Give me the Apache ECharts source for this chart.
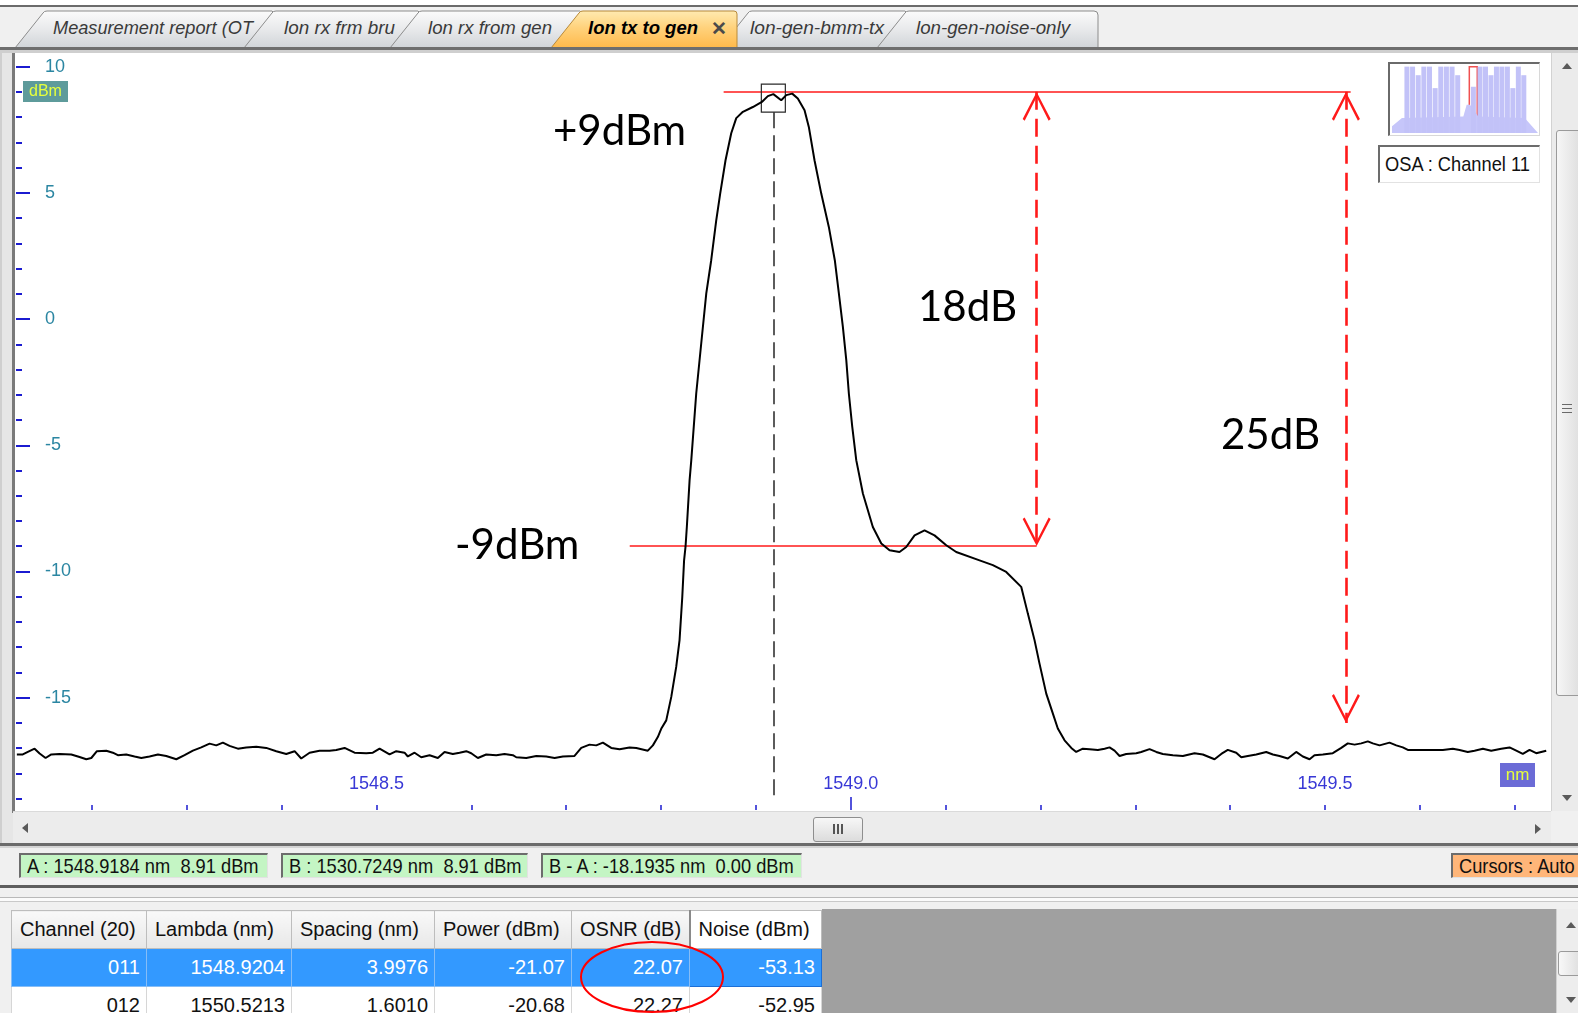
<!DOCTYPE html>
<html>
<head>
<meta charset="utf-8">
<title>OSA : Channel 11</title>
<script src="https://cdn.jsdelivr.net/npm/echarts@6/dist/echarts.min.js"></script>
<style>
  html, body { margin: 0; padding: 0; width: 1578px; height: 1013px; overflow: hidden; background: #f0f0f0; }
  body { position: relative; font-family: "Liberation Sans", Arial, sans-serif; }
  .abs { position: absolute; box-sizing: border-box; }
  .squeeze { display: inline-block; transform: scaleX(0.87); transform-origin: 0 50%; white-space: pre; }
  .inset { border-top: 2px solid #6c6c6c; border-left: 2px solid #6c6c6c; border-right: 1px solid #e2e2e2; border-bottom: 1px solid #e2e2e2; }
  .stat { top: 853px; height: 25px; font-size: 21px; line-height: 22px; padding-left: 6px; white-space: pre; color: #111; overflow: hidden; }
  .tri { position: absolute; width: 0; height: 0; }
  .up { border-left: 5px solid transparent; border-right: 5px solid transparent; border-bottom: 6px solid #5a5a5a; }
  .down { border-left: 5px solid transparent; border-right: 5px solid transparent; border-top: 6px solid #5a5a5a; }
  .left { border-top: 5px solid transparent; border-bottom: 5px solid transparent; border-right: 6px solid #5a5a5a; }
  .right { border-top: 5px solid transparent; border-bottom: 5px solid transparent; border-left: 6px solid #5a5a5a; }
  #tbl { position: absolute; left: 11px; top: 910px; border-collapse: collapse; table-layout: fixed; font-size: 20px; font-family: "Liberation Sans", Arial, sans-serif; }
  #tbl th { height: 37px; padding: 0 0 0 8px; text-align: left; font-weight: normal; color: #111;
            background: linear-gradient(#f9f9f9, #e7e7e7); border: 1px solid #bdbdbd; white-space: nowrap; overflow: hidden; }
  #tbl th.active { background: #ffffff; border-left: 2px solid #8a8a8a; }
  #tbl td { height: 37px; padding: 0 6px 0 0; text-align: right; color: #111; background: #fff; border: 1px solid #d6d6d6; white-space: nowrap; overflow: hidden; }
  #tbl tr.sel td { background: #3399ff; color: #fff; border-color: #86bdf7; }
  #tbl tr.sel td.focus { border: 1px solid #1d6fd6; }
  #chart { position: absolute; left: 0; top: 0; width: 1578px; height: 1013px; z-index: 10; pointer-events: none; }
</style>
</head>
<body>

<!-- window frame and tab strip -->
<div class="abs" style="left:0;top:0;width:1578px;height:5px;background:#ffffff"></div>
<div class="abs" style="left:0;top:5px;width:1578px;height:2px;background:#6b6b6b"></div>
<svg class="abs" style="left:0;top:0" width="1110" height="50">
  <defs>
    <linearGradient id="tabFill" x1="0" y1="0" x2="0" y2="1">
      <stop offset="0" stop-color="#fbfbfb"/>
      <stop offset="0.5" stop-color="#e8e9eb"/>
      <stop offset="1" stop-color="#d0d4d8"/>
    </linearGradient>
    <linearGradient id="tabActive" x1="0" y1="0" x2="0" y2="1">
      <stop offset="0" stop-color="#ffeab0"/>
      <stop offset="0.45" stop-color="#ffd27c"/>
      <stop offset="1" stop-color="#ffb94a"/>
    </linearGradient>
  </defs>
  <g stroke="#8c8c8c" stroke-width="1" fill="url(#tabFill)">
    <path d="M15,48 L43,13 Q44,11 47,11 L272,11 L276,15 L276,48 Z"/>
    <path d="M244,48 L272,13 Q273,11 276,11 L418,11 L422,15 L422,48 Z"/>
    <path d="M390,48 L418,13 Q419,11 422,11 L580,11 L584,15 L584,48 Z"/>
    <path d="M720,48 L748,13 Q749,11 752,11 L905,11 L909,15 L909,48 Z"/>
    <path d="M877,48 L905,13 Q906,11 909,11 L1094,11 Q1098,11 1098,15 L1098,48 Z"/>
  </g>
  <path d="M551,48 L579,13 Q580,11 583,11 L734,11 Q737,11 737,14 L737,48 Z" fill="url(#tabActive)" stroke="#b88a3a" stroke-width="1"/>
  <g font-family="Liberation Sans, Arial, sans-serif" font-size="18.5" font-style="italic" fill="#3a3a3a">
    <text x="53" y="34" textLength="200" lengthAdjust="spacingAndGlyphs">Measurement report (OT</text>
    <text x="284" y="34" textLength="111" lengthAdjust="spacingAndGlyphs">lon rx frm bru</text>
    <text x="428" y="34" textLength="124" lengthAdjust="spacingAndGlyphs">lon rx from gen</text>
    <text x="750" y="34" textLength="134" lengthAdjust="spacingAndGlyphs">lon-gen-bmm-tx</text>
    <text x="916" y="34" textLength="154" lengthAdjust="spacingAndGlyphs">lon-gen-noise-only</text>
  </g>
  <text x="588" y="34" font-family="Liberation Sans, Arial, sans-serif" font-size="18.5" font-style="italic" font-weight="bold" fill="#000" textLength="110" lengthAdjust="spacingAndGlyphs">lon tx to gen</text>
  <text x="711" y="35" font-family="Liberation Sans, Arial, sans-serif" font-size="19" font-weight="bold" fill="#4a4a4a">✕</text>
</svg>
<div class="abs" style="left:0;top:47px;width:1578px;height:3px;background:#6e6e6e"></div>
<div class="abs" style="left:0;top:50px;width:1578px;height:3px;background:#cfcfcf"></div>

<!-- spectrum panel -->
<div class="abs" style="left:0;top:53px;width:13px;height:792px;background:#e6e6e6;border-left:2px solid #cfcfcf"></div>
<div class="abs" style="left:12px;top:53px;width:3px;height:760px;background:#7a7a7a"></div>
<div class="abs" style="left:15px;top:53px;width:1536px;height:758px;background:#ffffff"></div>

<!-- vertical scrollbar of the spectrum -->
<div class="abs" style="left:1551px;top:53px;width:27px;height:760px;background:#ebebeb;border-left:1px solid #d2d2d2"></div>
<div class="tri up" style="left:1562px;top:63px"></div>
<div class="tri down" style="left:1562px;top:795px"></div>
<div class="abs" style="left:1556px;top:130px;width:26px;height:566px;background:linear-gradient(90deg,#f6f6f6,#dedede);border:1px solid #9a9a9a;border-radius:3px"></div>
<div class="abs" style="left:1562px;top:404px;width:10px;height:1px;background:#6a6a6a"></div>
<div class="abs" style="left:1562px;top:408px;width:10px;height:1px;background:#6a6a6a"></div>
<div class="abs" style="left:1562px;top:412px;width:10px;height:1px;background:#6a6a6a"></div>

<!-- horizontal scrollbar -->
<div class="abs" style="left:13px;top:811px;width:1538px;height:32px;background:#ececec;border-top:1px solid #dadada"></div>
<div class="abs" style="left:1551px;top:811px;width:27px;height:32px;background:#f0f0f0"></div>
<div class="tri left" style="left:22px;top:823px"></div>
<div class="tri right" style="left:1535px;top:824px"></div>
<div class="abs" style="left:813px;top:817px;width:50px;height:25px;background:linear-gradient(#f7f7f7,#dcdcdc);border:1px solid #8e8e8e;border-radius:3px"></div>
<div class="abs" style="left:833px;top:824px;width:2px;height:10px;background:#555"></div>
<div class="abs" style="left:837px;top:824px;width:2px;height:10px;background:#555"></div>
<div class="abs" style="left:841px;top:824px;width:2px;height:10px;background:#555"></div>

<!-- cursor status bar -->
<div class="abs" style="left:0;top:843px;width:1578px;height:3px;background:#6b6b6b"></div>
<div class="abs" style="left:0;top:846px;width:1578px;height:2px;background:#d4d4d4"></div>
<div class="abs stat inset" style="left:19px;width:249px;background:#c4f5c4"><span id="statA" class="squeeze"></span></div>
<div class="abs stat inset" style="left:281px;width:247px;background:#c4f5c4"><span id="statB" class="squeeze"></span></div>
<div class="abs stat inset" style="left:541px;width:261px;background:#c4f5c4"><span id="statBA" class="squeeze"></span></div>
<div class="abs stat inset" style="left:1451px;width:140px;background:#ffb679"><span id="statMode" class="squeeze"></span></div>

<!-- channel table -->
<div class="abs" style="left:0;top:885px;width:1578px;height:3px;background:#5e5e5e"></div>
<div class="abs" style="left:0;top:897px;width:1578px;height:1px;background:#b9b9b9"></div>
<div class="abs" style="left:0;top:898px;width:1578px;height:3px;background:#fbfbfb"></div>
<div class="abs" style="left:0;top:901px;width:1578px;height:1px;background:#c9c9c9"></div>
<div class="abs" style="left:822px;top:909px;width:734px;height:104px;background:#a0a0a0"></div>
<div class="abs" style="left:1556px;top:909px;width:22px;height:104px;background:#ededed;border-left:1px solid #d0d0d0"></div>
<div class="tri up" style="left:1566px;top:922px"></div>
<div class="abs" style="left:1558px;top:951px;width:24px;height:25px;background:linear-gradient(90deg,#f8f8f8,#dedede);border:1px solid #9a9a9a;border-radius:3px"></div>
<div class="tri down" style="left:1566px;top:997px"></div>
<table id="tbl"></table>

<!-- overview map frame and channel caption -->
<div class="abs" style="left:1388px;top:62px;width:152px;height:74px;background:#ffffff;border-top:2px solid #6a6a6a;border-left:2px solid #6a6a6a;border-right:1px solid #d8d8d8;border-bottom:1px solid #d8d8d8"></div>
<div class="abs inset" style="left:1378px;top:145px;width:162px;height:38px;background:#ffffff;font-size:21px;line-height:34px;padding-left:5px;color:#111;overflow:hidden"><span class="squeeze">OSA : Channel 11</span></div>

<div id="chart"></div>

<script>
// ---- measured trace (wavelength in nm, power in dBm) ----
const waveNm = [
  1548.1209, 1548.1272, 1548.1325, 1548.1396, 1548.1449, 1548.1512, 1548.1572, 1548.1659, 1548.1783, 1548.1870,
  1548.1941, 1548.1994, 1548.2053, 1548.2152, 1548.2221, 1548.2274, 1548.2362, 1548.2450, 1548.2521, 1548.2608,
  1548.2696, 1548.2784, 1548.2890, 1548.2977, 1548.3065, 1548.3153, 1548.3241, 1548.3311, 1548.3381, 1548.3451,
  1548.3539, 1548.3627, 1548.3733, 1548.3838, 1548.3944, 1548.4049, 1548.4137, 1548.4207, 1548.4295, 1548.4400,
  1548.4506, 1548.4576, 1548.4664, 1548.4769, 1548.4892, 1548.4962, 1548.5033, 1548.5138, 1548.5209, 1548.5296,
  1548.5331, 1548.5402, 1548.5472, 1548.5560, 1548.5647, 1548.5718, 1548.5805, 1548.5876, 1548.5947, 1548.5999,
  1548.6069, 1548.6157, 1548.6263, 1548.6350, 1548.6438, 1548.6474, 1548.6579, 1548.6685, 1548.6790, 1548.6878,
  1548.6965, 1548.7088, 1548.7159, 1548.7246, 1548.7317, 1548.7387, 1548.7475, 1548.7563, 1548.7668, 1548.7739,
  1548.7861, 1548.7914, 1548.7966, 1548.8005, 1548.8055, 1548.8108, 1548.8160, 1548.8195, 1548.8224, 1548.8243,
  1548.8258, 1548.8272, 1548.8301, 1548.8319, 1548.8371, 1548.8424, 1548.8477, 1548.8529, 1548.8582, 1548.8624,
  1548.8680, 1548.8740, 1548.8793, 1548.8863, 1548.8968, 1548.9063, 1548.9126, 1548.9184, 1548.9267, 1548.9320,
  1548.9383, 1548.9442, 1548.9513, 1548.9558, 1548.9618, 1548.9689, 1548.9769, 1548.9832, 1548.9875, 1548.9917,
  1548.9953, 1548.9980, 1549.0016, 1549.0058, 1549.0128, 1549.0233, 1549.0322, 1549.0409, 1549.0514, 1549.0585,
  1549.0673, 1549.0778, 1549.0883, 1549.1007, 1549.1112, 1549.1358, 1549.1498, 1549.1639, 1549.1797, 1549.1867,
  1549.1938, 1549.1990, 1549.2061, 1549.2131, 1549.2183, 1549.2254, 1549.2325, 1549.2377, 1549.2447, 1549.2517,
  1549.2605, 1549.2676, 1549.2728, 1549.2781, 1549.2834, 1549.2904, 1549.3010, 1549.3062, 1549.3150, 1549.3221,
  1549.3290, 1549.3396, 1549.3501, 1549.3624, 1549.3712, 1549.3835, 1549.3906, 1549.3975, 1549.4064, 1549.4117,
  1549.4186, 1549.4275, 1549.4380, 1549.4450, 1549.4520, 1549.4608, 1549.4696, 1549.4766, 1549.4837, 1549.4889,
  1549.4977, 1549.5082, 1549.5171, 1549.5240, 1549.5311, 1549.5382, 1549.5451, 1549.5504, 1549.5575, 1549.5680,
  1549.5751, 1549.5820, 1549.5873, 1549.5996, 1549.6137, 1549.6242, 1549.6347, 1549.6418, 1549.6505, 1549.6576,
  1549.6664, 1549.6752, 1549.6858, 1549.6945, 1549.7016, 1549.7085, 1549.7156, 1549.7226, 1549.7332
];
const powerDbm = [
  -17.25, -17.25, -17.15, -17.02, -17.21, -17.39, -17.25, -17.23, -17.25, -17.35,
  -17.44, -17.39, -17.12, -17.10, -17.18, -17.28, -17.25, -17.33, -17.39, -17.33,
  -17.25, -17.31, -17.44, -17.28, -17.10, -16.97, -16.82, -16.89, -16.78, -16.91,
  -17.02, -16.97, -16.94, -16.99, -17.12, -17.23, -17.12, -17.41, -17.18, -17.10,
  -17.10, -17.07, -16.99, -17.18, -17.20, -17.18, -17.02, -17.25, -17.12, -17.18,
  -17.33, -17.18, -17.36, -17.28, -17.39, -17.15, -17.23, -17.18, -17.12, -17.20,
  -17.39, -17.25, -17.28, -17.23, -17.28, -17.36, -17.39, -17.31, -17.33, -17.39,
  -17.33, -17.31, -16.99, -16.86, -16.89, -16.78, -16.99, -17.04, -16.97, -16.99,
  -17.10, -16.89, -16.56, -16.21, -15.90, -14.97, -13.78, -12.73, -11.01, -9.56,
  -9.03, -8.24, -6.39, -5.59, -2.95, -0.96, 1.02, 2.33, 3.91, 4.98,
  6.29, 7.36, 7.96, 8.21, 8.40, 8.60, 8.83, 8.91, 8.67, 8.87,
  8.93, 8.74, 8.27, 7.61, 6.29, 4.97, 3.65, 2.33, 1.01, -0.31,
  -1.63, -2.95, -4.27, -5.59, -6.91, -8.24, -8.89, -9.16, -9.23, -9.03,
  -8.57, -8.37, -8.57, -8.96, -9.23, -9.56, -9.75, -10.02, -10.61, -11.67,
  -12.73, -13.65, -14.84, -15.63, -16.22, -16.69, -16.99, -17.15, -17.02, -17.04,
  -17.07, -17.02, -16.97, -17.10, -17.31, -17.23, -17.20, -17.15, -17.04, -17.15,
  -17.23, -17.28, -17.31, -17.20, -17.25, -17.44, -17.23, -17.07, -17.18, -17.36,
  -17.31, -17.25, -17.15, -17.25, -17.31, -17.41, -17.15, -17.33, -17.44, -17.28,
  -17.25, -17.20, -16.99, -16.81, -16.86, -16.81, -16.73, -16.81, -16.89, -16.78,
  -16.89, -16.97, -17.07, -17.07, -17.07, -17.07, -17.02, -17.07, -17.15, -17.10,
  -17.02, -17.10, -17.02, -16.97, -17.10, -17.23, -17.07, -17.20, -17.10
];

// ---- axis ticks and labels ----
const xTickValues = [1548.2, 1548.3, 1548.4, 1548.5, 1548.6, 1548.7, 1548.8, 1548.9,
                     1549.0, 1549.1, 1549.2, 1549.3, 1549.4, 1549.5, 1549.6, 1549.7];
const xMajorTick = [1549.0];
const xLabelValues = [1548.5, 1549.0, 1549.5];
const yMinorTicks = [-19, -18, -17, -16, -15, -14, -13, -12, -11, -10, -9, -8, -7, -6, -5,
                     -4, -3, -2, -1, 0, 1, 2, 3, 4, 5, 6, 7, 8, 9, 10];
const yMajorTicks = [-15, -10, -5, 0, 5, 10];

// ---- cursors ----
const cursorA = { nm: 1548.9184, dbm: 8.91 };
const cursorB = { nm: 1530.7249, dbm: 8.91 };

// ---- annotation levels (dBm) and where they are drawn (nm) ----
const peakLevel = 9;
const shoulderLevel = -9;
const floorLevel = -16;
const peakLineSpan = [1548.866, 1549.527];
const shoulderLineSpan = [1548.767, 1549.196];
const shoulderArrowNm = 1549.196;
const floorArrowNm = 1549.522;

// ---- channel table ----
const tableHeaders = ['Channel (20)', 'Lambda (nm)', 'Spacing (nm)', 'Power (dBm)', 'OSNR (dB)', 'Noise (dBm)'];
const columnWidths = [135, 145, 143, 137, 118, 132];
const channelIds = ['011', '012'];
const channelLambda = ['1548.9204', '1550.5213'];
const channelSpacing = ['3.9976', '1.6010'];
const channelPower = ['-21.07', '-20.68'];
const channelOsnr = ['22.07', '22.27'];
const channelNoise = ['-53.13', '-52.95'];

// ---- overview of the full band (relative level, %) ----
const miniChannelNm = [1532.90, 1534.26, 1535.62, 1536.98, 1538.34, 1539.70, 1541.06, 1542.42, 1543.78, 1545.14,
                       1548.92, 1550.52, 1551.84, 1553.16, 1554.48, 1555.80, 1557.12, 1558.44, 1559.76, 1561.08];
const miniChannelLevel = [97.6, 97.6, 85, 97.6, 97.6, 66, 97.6, 97.6, 97.6, 85,
                          68, 97.6, 97.6, 85, 97.6, 97.6, 97.6, 66, 97.6, 85];
const miniFloorNm = [1529.3, 1531.7, 1546.5, 1547.3, 1548.1, 1550.1, 1561.3, 1564.5];
const miniFloorLevel = [9.8, 22, 24.4, 41.5, 41.5, 24.4, 22, 0];
const miniWindowNm = [1547.94, 1549.86];

// status bar text
const fmt = (c) => c.nm.toFixed(4) + ' nm  ' + c.dbm.toFixed(2) + ' dBm';
document.getElementById('statA').textContent = 'A : ' + fmt(cursorA);
document.getElementById('statB').textContent = 'B : ' + fmt(cursorB);
document.getElementById('statBA').textContent = 'B - A : ' + (cursorB.nm - cursorA.nm).toFixed(4) + ' nm  ' +
  (cursorB.dbm - cursorA.dbm).toFixed(2) + ' dBm';
document.getElementById('statMode').textContent = 'Cursors : Auto';

// channel table
(function buildTable() {
  const tbl = document.getElementById('tbl');
  const cg = document.createElement('colgroup');
  columnWidths.forEach(w => { const c = document.createElement('col'); c.style.width = w + 'px'; cg.appendChild(c); });
  tbl.appendChild(cg);
  const hr = document.createElement('tr');
  tableHeaders.forEach((h, i) => {
    const th = document.createElement('th');
    th.textContent = h;
    if (i === tableHeaders.length - 1) th.className = 'active';
    hr.appendChild(th);
  });
  tbl.appendChild(hr);
  channelIds.forEach((id, r) => {
    const tr = document.createElement('tr');
    if (r === 0) tr.className = 'sel';
    [id, channelLambda[r], channelSpacing[r], channelPower[r], channelOsnr[r], channelNoise[r]].forEach((v, i) => {
      const td = document.createElement('td');
      td.textContent = v;
      if (r === 0 && i === 5) td.className = 'focus';
      tr.appendChild(td);
    });
    tbl.appendChild(tr);
  });
})();

// ---- chart ----
const chart = echarts.init(document.getElementById('chart'), null, { renderer: 'canvas', width: 1578, height: 1013 });

const uiFont = '"Liberation Sans", Arial, sans-serif';
const noteFont = 'Lato, "Open Sans", sans-serif';
const red = '#ff1a1a';
// open chevron arrow head, tip at the symbol centre
const arrowHead = 'path://M0,-29L0.01,-29L0,-29Z M0,0L14,27L12,28.6L0,5L-12,28.6L-14,27Z';

const traceData = waveNm.map((x, i) => [x, powerDbm[i]]);
const miniBars = miniChannelNm.map((x, i) => [x, miniChannelLevel[i]]);
const miniFloor = miniFloorNm.map((x, i) => [x, miniFloorLevel[i]]);

const plainLine = (p, q) => [
  { coord: p, symbol: 'none' },
  { coord: q, symbol: 'none' }
];
const dashedArrow = (p, q) => [
  { coord: p, symbol: arrowHead, symbolSize: [28, 57.6], lineStyle: { color: red, width: 2.6, type: [18, 9] } },
  { coord: q, symbol: arrowHead, symbolSize: [28, 57.6] }
];

const option = {
  animation: false,
  backgroundColor: 'transparent',
  grid: [
    { left: 16, top: 54, width: 1531, height: 756, containLabel: false },
    { left: 1392, top: 65, width: 146, height: 68, containLabel: false }
  ],
  xAxis: [
    {
      gridIndex: 0, type: 'value', position: 'bottom', min: 1548.12, max: 1549.734,
      axisLine: { show: false, onZero: false }, splitLine: { show: false },
      axisTick: { inside: true, length: 5, customValues: xTickValues, lineStyle: { color: '#1b1bd0', width: 1.5 } },
      axisLabel: { inside: true, margin: 17, customValues: xLabelValues, formatter: v => v.toFixed(1),
                   color: '#3838d6', fontSize: 18, fontFamily: uiFont }
    },
    {
      gridIndex: 0, type: 'value', position: 'bottom', offset: 0, min: 1548.12, max: 1549.734,
      axisLine: { show: false, onZero: false }, splitLine: { show: false }, axisLabel: { show: false },
      axisTick: { inside: true, length: 13, customValues: xMajorTick, lineStyle: { color: '#1b1bd0', width: 1.5 } }
    },
    { gridIndex: 1, type: 'value', min: 1529.3, max: 1564.5, show: false }
  ],
  yAxis: [
    {
      gridIndex: 0, type: 'value', position: 'left', min: -19.45, max: 10.5,
      axisLine: { show: false, onZero: false }, splitLine: { show: false }, axisLabel: { show: false },
      axisTick: { inside: true, length: 6, customValues: yMinorTicks, lineStyle: { color: '#1b1bd0', width: 2 } }
    },
    {
      gridIndex: 0, type: 'value', position: 'left', offset: 0, min: -19.45, max: 10.5,
      axisLine: { show: false, onZero: false }, splitLine: { show: false },
      axisTick: { inside: true, length: 14, customValues: yMajorTicks, lineStyle: { color: '#1b1bd0', width: 2 } },
      axisLabel: { inside: true, margin: 29, customValues: yMajorTicks, color: '#2b86a2', fontSize: 18, fontFamily: uiFont }
    },
    { gridIndex: 1, type: 'value', min: 0, max: 100, show: false }
  ],
  series: [
    {
      name: 'Spectrum', type: 'line', xAxisIndex: 0, yAxisIndex: 0, data: traceData,
      showSymbol: false, symbol: 'none', smooth: false, clip: true, z: 5,
      lineStyle: { color: '#000000', width: 2 },
      markLine: {
        silent: true, animation: false, label: { show: false },
        lineStyle: { color: '#333333', width: 1.6, type: [16, 7] },
        data: [plainLine([cursorA.nm, 8.19], [cursorA.nm, -19.1])]
      },
      markPoint: {
        silent: true, animation: false, label: { show: false },
        data: [{ coord: [cursorA.nm, cursorA.dbm], symbol: 'rect', symbolSize: [24, 28], symbolOffset: [0, 4],
                 itemStyle: { color: 'rgba(0,0,0,0)', borderColor: '#2a2a2a', borderWidth: 1.3 } }]
      }
    },
    {
      name: 'Annotations', type: 'line', xAxisIndex: 0, yAxisIndex: 0, data: [], z: 6,
      markLine: {
        silent: true, animation: false, label: { show: false },
        lineStyle: { color: red, width: 1.5, type: 'solid' },
        data: [
          plainLine([peakLineSpan[0], peakLevel], [peakLineSpan[1], peakLevel]),
          plainLine([shoulderLineSpan[0], shoulderLevel], [shoulderLineSpan[1], shoulderLevel]),
          dashedArrow([shoulderArrowNm, peakLevel], [shoulderArrowNm, shoulderLevel]),
          dashedArrow([floorArrowNm, peakLevel], [floorArrowNm, floorLevel])
        ]
      }
    },
    {
      name: 'Band floor', type: 'line', xAxisIndex: 2, yAxisIndex: 2, data: miniFloor,
      showSymbol: false, symbol: 'none', lineStyle: { width: 0 }, areaStyle: { color: '#c6c6fa', opacity: 1 }, z: 2
    },
    {
      name: 'Band channels', type: 'bar', xAxisIndex: 2, yAxisIndex: 2, data: miniBars,
      barWidth: 5, itemStyle: { color: '#c2c2f8' }, z: 3,
      markArea: {
        silent: true,
        itemStyle: { color: 'rgba(0,0,0,0)', borderColor: '#f05050', borderWidth: 1.5 },
        data: [[{ coord: [miniWindowNm[0], 97.6] }, { coord: [miniWindowNm[1], 9.8] }]]
      }
    }
  ],
  graphic: [
    { type: 'rect', shape: { x: 23, y: 81, width: 45, height: 21 }, style: { fill: '#5e9b9b' }, z: 20 },
    { type: 'text', x: 45.5, y: 92, style: { text: 'dBm', fill: '#e6ff3c', font: '16px ' + uiFont, align: 'center', verticalAlign: 'middle' }, z: 21 },
    { type: 'rect', shape: { x: 1500, y: 763, width: 35, height: 24 }, style: { fill: '#6b6bd6' }, z: 20 },
    { type: 'text', x: 1517.5, y: 775, style: { text: 'nm', fill: '#e6ff3c', font: '17px ' + uiFont, align: 'center', verticalAlign: 'middle' }, z: 21 },
    { type: 'text', x: 553, y: 131, style: { text: '+9dBm', fill: '#000', font: '42px ' + noteFont, verticalAlign: 'middle' }, z: 22 },
    { type: 'text', x: 918, y: 307, style: { text: '18dB', fill: '#000', font: '42px ' + noteFont, verticalAlign: 'middle' }, z: 22 },
    { type: 'text', x: 1221, y: 435, style: { text: '25dB', fill: '#000', font: '42px ' + noteFont, verticalAlign: 'middle' }, z: 22 },
    { type: 'text', x: 455, y: 545, style: { text: '-9dBm', fill: '#000', font: '42px ' + noteFont, verticalAlign: 'middle' }, z: 22 },
    { type: 'ellipse', shape: { cx: 652, cy: 977, rx: 71, ry: 35 }, style: { fill: null, stroke: '#ff0000', lineWidth: 2 }, z: 22 }
  ]
};

chart.setOption(option);
</script>
</body>
</html>
